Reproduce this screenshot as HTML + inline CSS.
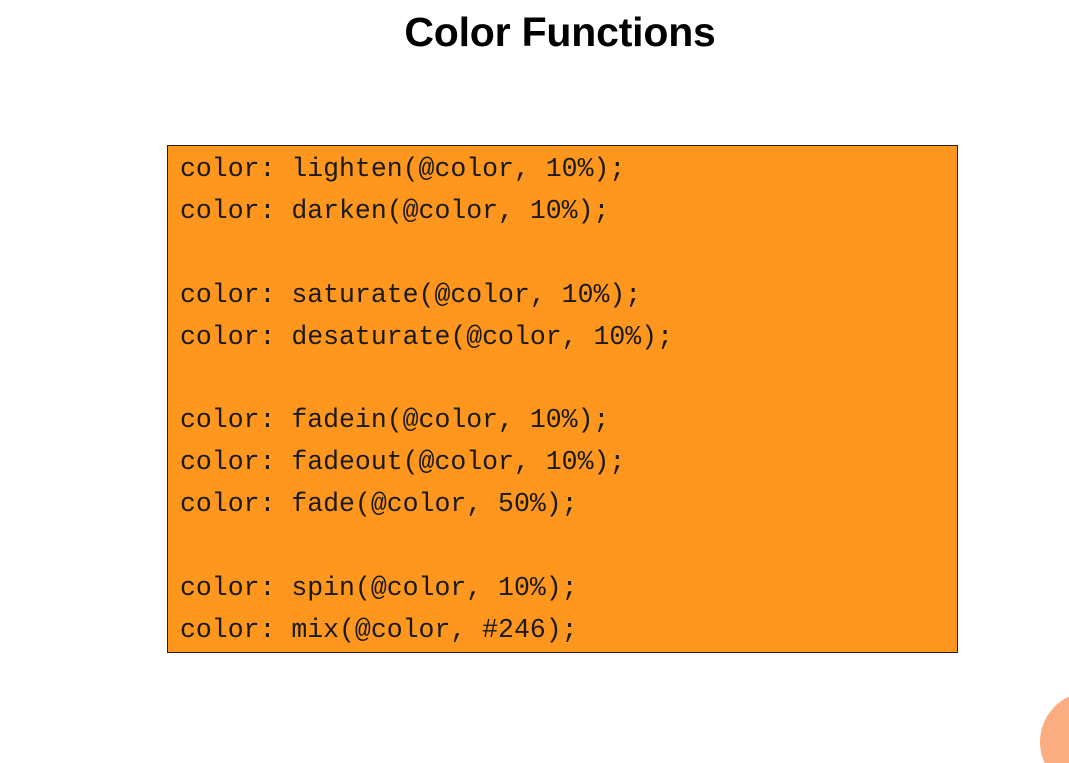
<!DOCTYPE html>
<html><head><style>
html,body{margin:0;padding:0;background:#fff;width:1069px;height:763px;overflow:hidden;position:relative}
.t{position:absolute;left:0;width:1120px;top:9px;text-align:center;font:bold 41px "Liberation Sans",sans-serif;color:#000;letter-spacing:-0.2px}
.box{position:absolute;left:167px;top:145px;width:789px;height:506px;background:#FF961E;border:1px solid #222}
.l{position:absolute;left:12px;font:26.5px "Liberation Mono",monospace;color:#1a1a1a;white-space:pre;line-height:30px}
.c{position:absolute;left:1040px;top:692px;width:100px;height:100px;border-radius:50%;background:#FAAD80}
</style></head><body>
<div class="t">Color Functions</div>
<div class="box">
<div class="l" style="top:8px">color: lighten(@color, 10%);</div>
<div class="l" style="top:50px">color: darken(@color, 10%);</div>
<div class="l" style="top:134px">color: saturate(@color, 10%);</div>
<div class="l" style="top:176px">color: desaturate(@color, 10%);</div>
<div class="l" style="top:259px">color: fadein(@color, 10%);</div>
<div class="l" style="top:301px">color: fadeout(@color, 10%);</div>
<div class="l" style="top:343px">color: fade(@color, 50%);</div>
<div class="l" style="top:427px">color: spin(@color, 10%);</div>
<div class="l" style="top:469px">color: mix(@color, #246);</div>
</div>
<div class="c"></div>
</body></html>
